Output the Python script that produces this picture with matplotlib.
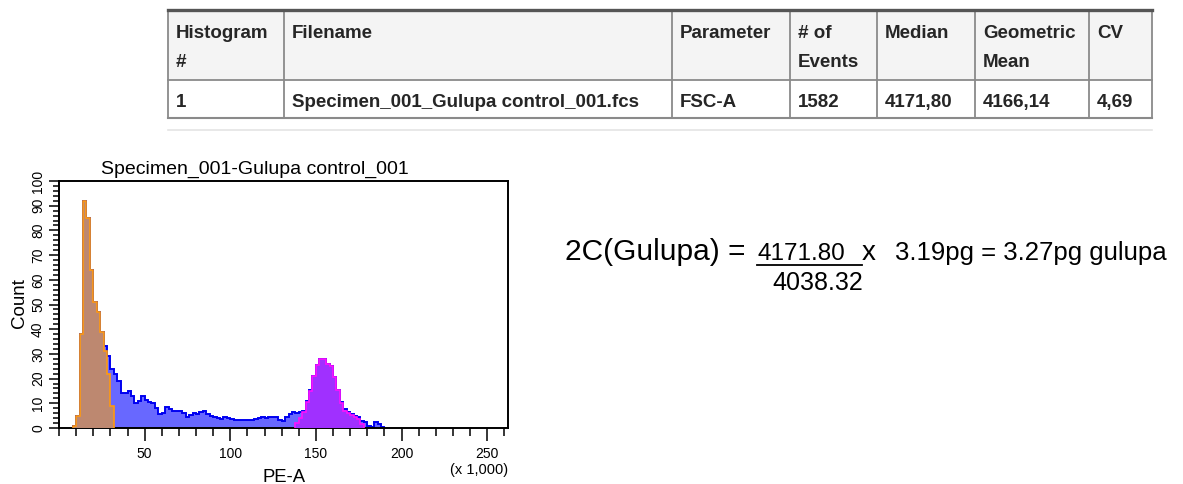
import numpy as np
import matplotlib
matplotlib.use("Agg")
import matplotlib.pyplot as plt
from matplotlib.ticker import MultipleLocator

# ---------------- data ----------------
# table
table_headers = [["Histogram", "#"], ["Filename"], ["Parameter"], ["# of", "Events"],
                 ["Median"], ["Geometric", "Mean"], ["CV"]]
table_row = ["1", "Specimen_001_Gulupa control_001.fcs", "FSC-A", "1582",
             "4171,80", "4166,14", "4,69"]

# histogram (PE-A in thousands, bin width 2)
bin_width = 2
all_start = 8
all_counts = [1, 5, 38, 92, 85, 64, 51, 47, 39, 33, 29, 24, 22, 19, 14, 14, 15, 13,
              10, 11, 13, 11.5, 10.5, 10, 8, 5.5, 6, 8.5, 7.5, 7, 6.8, 6.7, 6, 4.5,
              5.2, 6, 5.8, 6.5, 7, 5.5, 5, 4.5, 4, 3.7, 4.3, 4, 3.6, 3.3, 3.2, 3.2,
              3.4, 3.3, 3.2, 3.8, 4, 4.3, 4.2, 4.4, 4.5, 4.3, 3.2, 3, 4.5, 5.8, 6.4,
              6.2, 6.5, 7, 11, 15.5, 21, 25.5, 28, 28, 26, 25, 20.5, 15.5, 10.5, 7.5,
              6.5, 5.8, 5, 4.5, 3, 2.4, 1, 0.5, 2.3, 1.8, 0.3]
g1_start = 8
g1_counts = [1, 5, 38, 92, 85, 64, 51, 47, 39, 31, 22, 9]
g2_start = 138
g2_counts = [2, 4, 6.5, 10.5, 15, 21, 25.5, 28, 28, 26, 25, 20.5, 15.5, 10, 7,
             6, 5.3, 4.5, 3.5, 1.5]

plot_title = "Specimen_001-Gulupa control_001"
x_label = "PE-A"
y_label = "Count"
x_scale_note = "(x 1,000)"
x_major = [50, 100, 150, 200, 250]
y_major = [0, 10, 20, 30, 40, 50, 60, 70, 80, 90, 100]

eq_left = "2C(Gulupa) ="
eq_num = "4171.80"
eq_times = "x"
eq_den = "4038.32"
eq_right = "3.19pg = 3.27pg gulupa"

# ---------------- figure ----------------
W, H = 1183, 484
fig = plt.figure(figsize=(W / 100, H / 100), dpi=100)
fig.patch.set_facecolor("white")

plt.rcParams["font.family"] = ["Liberation Sans", "DejaVu Sans"]

# ---- histogram axes ----
ax_l, ax_r, ax_t, ax_b = 59, 508, 181, 428
ax = fig.add_axes([ax_l / W, (H - ax_b) / H, (ax_r - ax_l) / W, (ax_b - ax_t) / H])

edges_all = all_start + bin_width * np.arange(len(all_counts) + 1)
edges_g1 = g1_start + bin_width * np.arange(len(g1_counts) + 1)
edges_g2 = g2_start + bin_width * np.arange(len(g2_counts) + 1)

ax.stairs(all_counts, edges_all, fill=True, color="#6868ff", zorder=1)
ax.stairs(all_counts, edges_all, color="#0000f0", lw=1.4, zorder=2)
ax.stairs(g2_counts, edges_g2, fill=True, color="#a030ff", zorder=3)
ax.stairs(g2_counts, edges_g2, color="#ff10ff", lw=1.2, zorder=4)
ax.stairs(g1_counts, edges_g1, fill=True, color="#bd8870", zorder=5)
ax.stairs(g1_counts, edges_g1, color="#ff9a10", lw=1.2, zorder=6)

ax.set_xlim(0, 262.144)
ax.set_ylim(0, 100)
for s in ax.spines.values():
    s.set_linewidth(1.4)
    s.set_color("black")

ax.set_xticks(x_major)
ax.set_xticklabels([str(v) for v in x_major])
ax.xaxis.set_minor_locator(MultipleLocator(10))
ax.set_yticks(y_major)
ax.set_yticklabels([str(v) for v in y_major])
ax.yaxis.set_minor_locator(MultipleLocator(2))
ax.tick_params(axis="x", which="major", direction="out", length=9.5, width=1.1, pad=4.5,
               labelsize=10)
ax.tick_params(axis="x", which="minor", direction="out", length=5.5, width=1.1)
ax.tick_params(axis="y", which="major", direction="out", length=7, width=1.1, pad=3,
               labelsize=10, labelrotation=90)
ax.tick_params(axis="y", which="minor", direction="out", length=4.5, width=1.1)
for lab in ax.get_yticklabels():
    lab.set_va("center")

# overlay in pixel coords (on top, transparent)
ov = fig.add_axes([0, 0, 1, 1])
ov.set_xlim(0, W)
ov.set_ylim(H, 0)
ov.axis("off")
ov.set_zorder(5)

# ---- table ----
col_x = [168, 284, 672, 790, 877, 975, 1089, 1152]
row_y = [10, 80, 118]
ov.add_patch(plt.Rectangle((col_x[0], row_y[0]), col_x[-1] - col_x[0], row_y[1] - row_y[0],
                           facecolor="#f4f4f4", edgecolor="none"))
ov.add_patch(plt.Rectangle((col_x[0], row_y[1]), col_x[-1] - col_x[0], row_y[2] - row_y[1],
                           facecolor="white", edgecolor="none"))
gc = "#8a8a8a"
for xc in col_x:
    ov.plot([xc, xc], [row_y[0], row_y[2]], color=gc, lw=1.3, solid_capstyle="butt")
ov.plot([col_x[0], col_x[-1]], [row_y[1], row_y[1]], color=gc, lw=1.3)
ov.plot([col_x[0], col_x[-1]], [row_y[2], row_y[2]], color=gc, lw=1.5)
ov.plot([col_x[0], col_x[-1]], [row_y[0], row_y[0]], color="#555555", lw=2.4)
ov.plot([col_x[0], col_x[-1]], [130, 130], color="#e4e4e4", lw=1.2)

tfont = dict(fontsize=13.5, fontweight="bold", color="#262626", ha="left", va="baseline")
for i, hdr in enumerate(table_headers):
    for j, line in enumerate(hdr):
        ov.text(col_x[i] + 8, 38 + j * 29, line, **tfont)
for i, val in enumerate(table_row):
    ov.text(col_x[i] + 8, 107, val, **tfont)

# ---- equation ----
ov.text(565, 260, eq_left, fontsize=21.5, color="black", va="baseline", ha="left")
ov.text(758, 260, eq_num, fontsize=17.5, color="black", va="baseline", ha="left")
ov.text(862, 260, eq_times, fontsize=20, color="black", va="baseline", ha="left")
ov.plot([757, 862], [264.5, 264.5], color="black", lw=1.3)
ov.text(772, 290, eq_den, fontsize=18, color="black", va="baseline", ha="left")
ov.text(895, 260, eq_right, fontsize=18.5, color="black", va="baseline", ha="left")

# texts around the plot (pixel positions)
ov.text(255, 174, plot_title, fontsize=14, ha="center", va="baseline")
ov.text(284, 482, x_label, fontsize=13.3, ha="center", va="baseline")
ov.text(508, 474, x_scale_note, fontsize=10.5, ha="right", va="baseline")
ov.text(20, 303, y_label, fontsize=13.5, ha="center", va="center", rotation=90)

fig.savefig("out.png", dpi=100, facecolor="white")
